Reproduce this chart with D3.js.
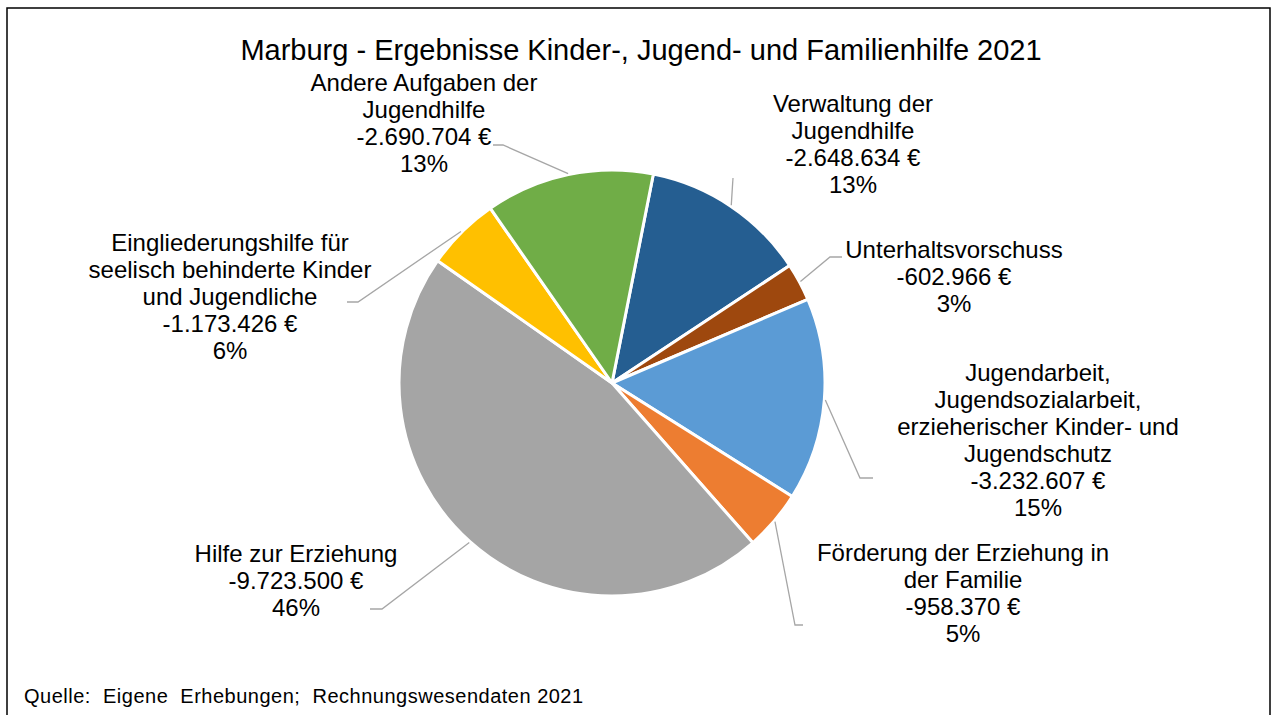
<!DOCTYPE html>
<html>
<head>
<meta charset="utf-8">
<script src="https://cdn.jsdelivr.net/npm/d3@7"></script>
<style>
  body { margin: 0; background: #fff; }
  text { font-family: "Liberation Sans", Arial, sans-serif; fill: #000; white-space: pre; }
</style>
</head>
<body>
<svg id="chart" width="1275" height="715"></svg>
<script>
// data
const categories = [
    "Verwaltung der\nJugendhilfe",
    "Unterhaltsvorschuss",
    "Jugendarbeit,\nJugendsozialarbeit,\nerzieherischer Kinder- und\nJugendschutz",
    "Förderung der Erziehung in\nder Familie",
    "Hilfe zur Erziehung",
    "Eingliederungshilfe für\nseelisch behinderte Kinder\nund Jugendliche",
    "Andere Aufgaben der\nJugendhilfe"
];
const values = [-2648634, -602966, -3232607, -958370, -9723500, -1173426, -2690704];
const colors = ["#255E91", "#9E480E", "#5B9BD5", "#ED7D31", "#A5A5A5", "#FFC000", "#70AD47"];

const titleText = "Marburg - Ergebnisse Kinder-, Jugend- und Familienhilfe 2021";
const sourceText = "Quelle:  Eigene  Erhebungen;  Rechnungswesendaten 2021";

// label layout: text center x, first baseline y, leader points from label side
const labelLayout = [
    { x: 853, y: 112, leader: [[733, 178]] },
    { x: 954, y: 258, leader: [[842, 257], [830, 257]] },
    { x: 1038, y: 381, leader: [[873, 478], [860, 478]] },
    { x: 963, y: 561, leader: [[803, 625], [795, 625]] },
    { x: 296, y: 562, leader: [[370, 609], [382, 609]] },
    { x: 230, y: 251, leader: [[347, 302], [358, 302]] },
    { x: 424, y: 91, leader: [[493, 145], [503, 145]] }
];

const svg = d3.select("#chart");
const cx = 612, cy = 383, radius = 213;
const lineH = 27;

// frame
svg.append("rect")
    .attr("x", 7).attr("y", 8)
    .attr("width", 1263).attr("height", 740)
    .attr("fill", "none")
    .attr("stroke", "#000")
    .attr("stroke-width", 1.5);

svg.append("text")
    .attr("x", 641).attr("y", 60)
    .attr("text-anchor", "middle")
    .attr("font-size", 29)
    .text(titleText);

const total = d3.sum(values);
const de = d3.formatLocale({ decimal: ",", thousands: ".", grouping: [3], currency: ["", " €"], minus: "-" });
const fmt = de.format(",.0f");

const startOffset = 11.2 * Math.PI / 180;
const pie = d3.pie()
    .sort(null)
    .value(d => Math.abs(d))
    .startAngle(startOffset)
    .endAngle(startOffset + 2 * Math.PI);

const arcs = pie(values);
const arc = d3.arc().innerRadius(0).outerRadius(radius);

const g = svg.append("g").attr("transform", `translate(${cx},${cy})`);

g.selectAll("path")
    .data(arcs)
    .enter()
    .append("path")
    .attr("d", arc)
    .attr("fill", (d, i) => colors[i])
    .attr("stroke", "#fff")
    .attr("stroke-width", 3)
    .attr("stroke-linejoin", "round");

// leader lines
svg.append("g").attr("class", "leaders")
    .selectAll("polyline")
    .data(arcs)
    .enter()
    .append("polyline")
    .attr("points", (d, i) => {
        const a = (d.startAngle + d.endAngle) / 2;
        const edge = [cx + Math.sin(a) * (radius + 1), cy - Math.cos(a) * (radius + 1)];
        return labelLayout[i].leader.concat([edge]).map(p => p.join(",")).join(" ");
    })
    .attr("fill", "none")
    .attr("stroke", "#A6A6A6")
    .attr("stroke-width", 1.3);

// labels
const labels = svg.append("g").attr("class", "labels")
    .selectAll("text")
    .data(arcs)
    .enter()
    .append("text")
    .attr("text-anchor", "middle")
    .attr("font-size", 24)
    .attr("x", (d, i) => labelLayout[i].x)
    .attr("y", (d, i) => labelLayout[i].y);

labels.selectAll("tspan")
    .data((d, i) => categories[i].split("\n")
        .concat([fmt(values[i]) + " €", Math.round(Math.abs(values[i]) / Math.abs(total) * 100) + "%"])
        .map(t => ({ t, x: labelLayout[i].x })))
    .enter()
    .append("tspan")
    .attr("x", d => d.x)
    .attr("dy", (d, j) => j === 0 ? 0 : lineH)
    .text(d => d.t);

svg.append("text")
    .attr("x", 24).attr("y", 703)
    .attr("font-size", 20)
    .attr("letter-spacing", 0.5)
    .text(sourceText);
</script>
</body>
</html>
